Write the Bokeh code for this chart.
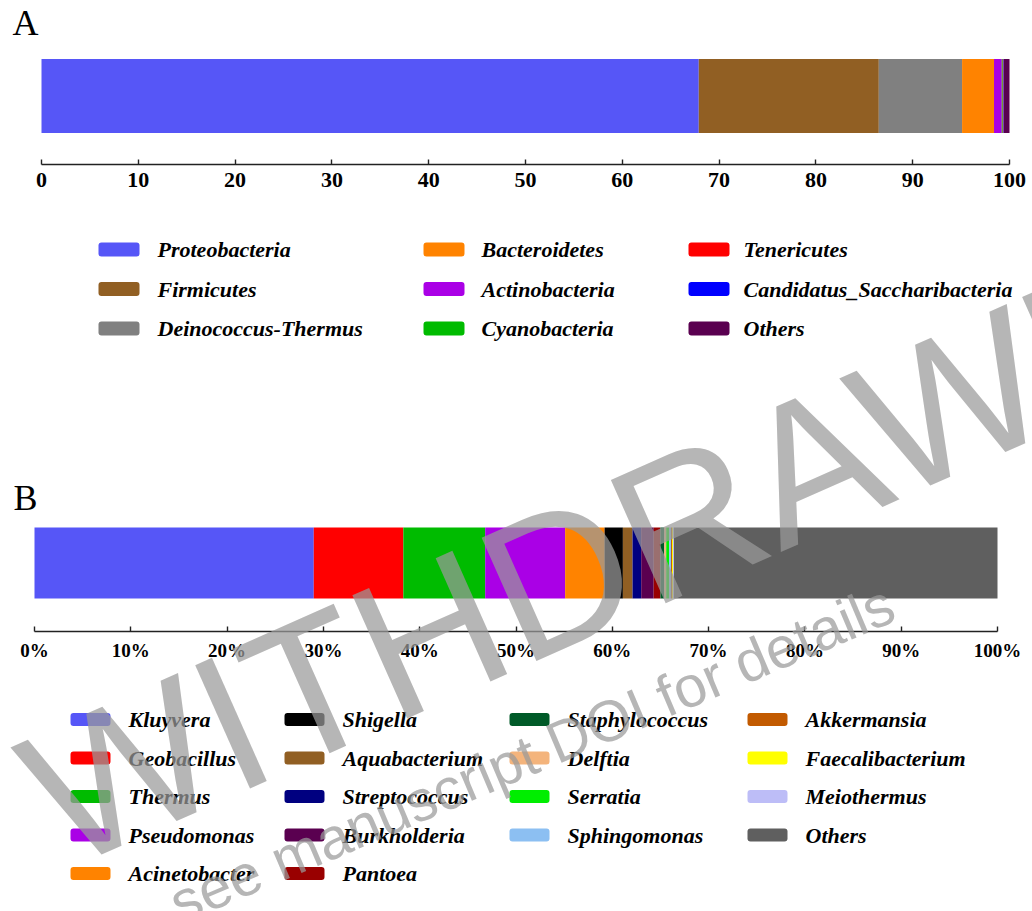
from bokeh.plotting import figure
from bokeh.models import Range1d, FixedTicker, Label, LinearAxis
from bokeh.core.properties import value
from bokeh.embed import file_html
from bokeh.resources import INLINE

# ---------------- data ----------------
phyla = ["Proteobacteria", "Firmicutes", "Deinococcus-Thermus", "Bacteroidetes",
         "Actinobacteria", "Cyanobacteria", "Tenericutes",
         "Candidatus_Saccharibacteria", "Others"]
phylum_pct = [67.9, 18.6, 8.6, 3.3, 0.8, 0.1, 0.05, 0.05, 0.6]
phylum_colors = ["#5656F7", "#915F23", "#808080", "#FF8300", "#AA00E6",
                 "#00BB00", "#FF0000", "#0000FF", "#5A0050"]
phylum_ticks = [0, 10, 20, 30, 40, 50, 60, 70, 80, 90, 100]
phylum_tick_labels = ["0", "10", "20", "30", "40", "50", "60", "70", "80", "90", "100"]

genera = ["Kluyvera", "Geobacillus", "Thermus", "Pseudomonas", "Acinetobacter",
          "Shigella", "Aquabacterium", "Streptococcus", "Burkholderia", "Pantoea",
          "Staphylococcus", "Delftia", "Serratia", "Sphingomonas",
          "Akkermansia", "Faecalibacterium", "Meiothermus", "Others"]
genus_pct = [29.0, 9.3, 8.5, 8.3, 4.1, 1.9, 1.0, 0.9, 1.3, 0.7,
             0.4, 0.2, 0.3, 0.2, 0.1, 0.1, 0.1, 33.6]
genus_colors = ["#5656F7", "#FF0000", "#00BB00", "#AA00E6", "#FF8300",
                "#000000", "#915F23", "#000080", "#5A0050", "#990000",
                "#005A28", "#F4B47C", "#00EE00", "#8CBFF2",
                "#C25A00", "#FFFF00", "#BDBDF7", "#5F5F5F"]
genus_ticks = [0, 10, 20, 30, 40, 50, 60, 70, 80, 90, 100]
genus_tick_labels = ["0%", "10%", "20%", "30%", "40%", "50%", "60%", "70%",
                     "80%", "90%", "100%"]

# ---------------- page geometry (pixels from top-left) ----------------
W, H = 1032, 911
SERIF = "Liberation Serif"
STAMP_FONT = "Liberation Sans"
WM_COLOR = "#9a9a9a"


def stack(vals):
    left, acc = [], 0.0
    for v in vals:
        left.append(acc)
        acc += v
    right = [l + v for l, v in zip(left, vals)]
    return left, right


def pct_range(px0, px100):
    """Percent scale whose 0 and 100 fall on the given page columns."""
    per_px = 100.0 / (px100 - px0)
    return Range1d(-px0 * per_px, 100 + (W - px100) * per_px)


p = figure(width=W, height=H, output_backend="svg", toolbar_location=None,
           x_range=pct_range(41, 1009), y_range=Range1d(H, 0),
           min_border=0, y_axis_location=None)
p.extra_x_ranges = {"pctB": pct_range(34, 997), "px": Range1d(0, W)}
p.outline_line_color = None
p.grid.visible = False
p.background_fill_color = "white"
p.border_fill_color = "white"


def style_axis(ax, ticks, labels, font_size):
    ax.bounds = (0, 100)
    ax.ticker = FixedTicker(ticks=ticks, minor_ticks=[])
    ax.major_label_overrides = {t: lab for t, lab in zip(ticks, labels)}
    ax.major_tick_in = 5
    ax.major_tick_out = 0
    ax.minor_tick_in = 0
    ax.minor_tick_out = 0
    ax.axis_line_color = "#222222"
    ax.axis_line_width = 1.6
    ax.major_tick_line_color = "#222222"
    ax.major_tick_line_width = 1.4
    ax.major_label_standoff = 8
    ax.major_label_text_font = SERIF
    ax.major_label_text_font_style = "bold"
    ax.major_label_text_font_size = font_size
    ax.major_label_text_color = "black"


def draw_bar(vals, colors, y_mid, bar_h, xname):
    left, right = stack(vals)
    kw = {} if xname is None else {"x_range_name": xname}
    p.hbar(y=[y_mid] * len(vals), height=bar_h, left=left, right=right,
           fill_color=colors, line_color=None, **kw)


def draw_legend(names, colors, col_sizes, sw_x, txt_x, row0, row_step, sw_w, sw_h):
    cols, ys = [], []
    for c, n in enumerate(col_sizes):
        for r in range(n):
            cols.append(c)
            ys.append(row0 + r * row_step)
    sl = [sw_x[c] for c in cols]
    p.quad(left=sl, right=[s + sw_w for s in sl],
           top=[y - sw_h / 2 for y in ys], bottom=[y + sw_h / 2 for y in ys],
           fill_color=colors, line_color=None, border_radius=3, x_range_name="px")
    p.text(x=[txt_x[c] for c in cols], y=ys, text=names, x_range_name="px",
           text_font=value(SERIF), text_font_style="bold italic",
           text_font_size="22px", text_color="black",
           text_baseline="middle", text_align="left")


# ---- Panel A: phylum level ----
draw_bar(phylum_pct, phylum_colors, y_mid=95.5, bar_h=74, xname=None)
axA = p.xaxis[0]
axA.fixed_location = 164
style_axis(axA, phylum_ticks, phylum_tick_labels, "22px")
draw_legend(phyla, phylum_colors, col_sizes=[3, 3, 3], sw_x=[98, 423, 688],
            txt_x=[157, 481, 743], row0=249, row_step=39.5, sw_w=41, sw_h=14)

# ---- Panel B: genus level ----
draw_bar(genus_pct, genus_colors, y_mid=562.5, bar_h=71, xname="pctB")
axB = LinearAxis(x_range_name="pctB", fixed_location=631)
style_axis(axB, genus_ticks, genus_tick_labels, "19px")
p.add_layout(axB, "below")
draw_legend(genera, genus_colors, col_sizes=[5, 5, 4, 4], sw_x=[70, 284, 509, 747],
            txt_x=[128, 342, 567, 805], row0=719, row_step=38.5, sw_w=40, sw_h=13)

# panel letters
p.text(x=[12, 13], y=[22, 497], text=["A", "B"], x_range_name="px",
       text_font=value(SERIF), text_font_size="36px", text_color="black",
       text_baseline="middle", text_align="left")

# retraction stamp over the whole page
p.add_layout(Label(x=600, y=558, x_range_name="px", text="WITHDRAWN",
                   angle=24, angle_units="deg",
                   text_font=STAMP_FONT, text_font_size="196px",
                   text_color=WM_COLOR, text_alpha=0.72,
                   text_align="center", text_baseline="middle"))
p.add_layout(Label(x=172, y=905, x_range_name="px",
                   text="see manuscript DOI for details",
                   angle=23, angle_units="deg",
                   text_font=STAMP_FONT, text_font_size="58px",
                   text_color=WM_COLOR, text_alpha=0.72,
                   text_align="left", text_baseline="alphabetic"))

open("out.html", "w").write(file_html(p, INLINE))
